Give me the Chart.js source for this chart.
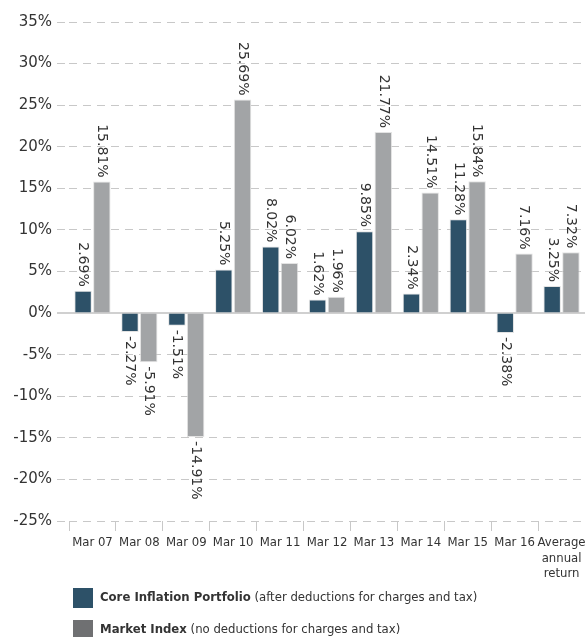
<!DOCTYPE html>
<html>
<head>
  <title>Core Inflation Portfolio vs Market Index</title>
  <script src="https://cdn.jsdelivr.net/npm/chart.js"></script>
  <style>
    body { margin: 0; background: #fff; }
    #wrap { width: 585px; height: 637px; }
  </style>
</head>
<body>
  <div id="wrap"><canvas id="returnsChart" width="585" height="637"></canvas></div>

  <script>
    // categories (multi-line label for the last one)
    const categories = ['Mar 07', 'Mar 08', 'Mar 09', 'Mar 10', 'Mar 11', 'Mar 12',
      'Mar 13', 'Mar 14', 'Mar 15', 'Mar 16', ['Average', 'annual', 'return']];

    // yearly returns in %
    const portfolioValues = [2.69, -2.27, -1.51, 5.25, 8.02, 1.62, 9.85, 2.34, 11.28, -2.38, 3.25];
    const indexValues = [15.81, -5.91, -14.91, 25.69, 6.02, 1.96, 21.77, 14.51, 15.84, 7.16, 7.32];

    const yMin = -25, yMax = 35, yStep = 5;

    const legendItems = [
      { bold: 'Core Inflation Portfolio', rest: ' (after deductions for charges and tax)', color: '#2d5168' },
      { bold: 'Market Index', rest: ' (no deductions for charges and tax)', color: '#6f7072' }
    ];

    const textColor = '#333';
    const gridColor = '#c8c8c8';
    const condensed = '"DejaVu Sans Condensed", "DejaVu Sans", sans-serif';
    const regular = '"DejaVu Sans", sans-serif';

    // rotated value labels above / below each bar
    const valueLabels = {
      id: 'valueLabels',
      afterDatasetsDraw(chart) {
        const ctx = chart.ctx;
        ctx.save();
        ctx.font = '14px ' + regular;
        ctx.fillStyle = textColor;
        ctx.textBaseline = 'middle';
        chart.data.datasets.forEach((ds, i) => {
          chart.getDatasetMeta(i).data.forEach((bar, j) => {
            const v = ds.data[j];
            const text = v.toFixed(2) + '%';
            ctx.save();
            ctx.translate(bar.x, v >= 0 ? bar.y - 4 : bar.y + 4);
            ctx.rotate(Math.PI / 2);
            ctx.textAlign = v >= 0 ? 'right' : 'left';
            ctx.fillText(text, 0, 0);
            ctx.restore();
          });
        });
        ctx.restore();
      }
    };

    // solid zero line
    const zeroLine = {
      id: 'zeroLine',
      beforeDatasetsDraw(chart) {
        const y = Math.round(chart.scales.y.getPixelForValue(0));
        const ctx = chart.ctx;
        ctx.save();
        ctx.strokeStyle = '#d0d0d0';
        ctx.lineWidth = 2;
        ctx.beginPath();
        ctx.moveTo(chart.chartArea.left - 12, y);
        ctx.lineTo(chart.chartArea.right, y);
        ctx.stroke();
        ctx.restore();
      }
    };

    // legend with bold series name + regular note
    const customLegend = {
      id: 'customLegend',
      afterDraw(chart) {
        const ctx = chart.ctx;
        ctx.save();
        ctx.textBaseline = 'middle';
        legendItems.forEach((item, i) => {
          const top = 588 + i * 32;
          ctx.fillStyle = item.color;
          ctx.fillRect(73, top, 20, 20);
          ctx.fillStyle = textColor;
          ctx.font = 'bold 13px ' + condensed;
          ctx.fillText(item.bold, 100, top + 10);
          const w = ctx.measureText(item.bold).width;
          ctx.font = '13px ' + condensed;
          ctx.fillText(item.rest, 100 + w, top + 10);
        });
        ctx.restore();
      }
    };

    const ctx = document.getElementById('returnsChart').getContext('2d');
    new Chart(ctx, {
      type: 'bar',
      data: {
        labels: categories,
        datasets: [{
          label: 'Core Inflation Portfolio',
          data: portfolioValues,
          backgroundColor: '#2d5168',
          borderColor: 'rgba(220,220,220,0.8)',
          borderWidth: 1,
          categoryPercentage: 0.8,
          barPercentage: 0.93
        }, {
          label: 'Market Index',
          data: indexValues,
          backgroundColor: '#a2a4a6',
          borderColor: 'rgba(220,220,220,0.8)',
          borderWidth: 1,
          categoryPercentage: 0.8,
          barPercentage: 0.93
        }]
      },
      options: {
        responsive: false,
        animation: false,
        layout: { padding: { top: 22, right: 0, bottom: 56, left: 0 } },
        plugins: {
          legend: { display: false },
          tooltip: { enabled: false }
        },
        scales: {
          x: {
            grid: {
              display: true,
              drawOnChartArea: false,
              drawTicks: true,
              tickLength: 10,
              tickColor: gridColor,
              color: gridColor
            },
            border: { display: false },
            ticks: {
              color: textColor,
              font: { family: condensed, size: 13, lineHeight: 1.2 },
              padding: 4,
              maxRotation: 0,
              autoSkip: false
            },
            afterFit(s) {
              s.height = 60;
              s.paddingLeft = 0;
              s.paddingRight = 0;
            }
          },
          y: {
            min: yMin,
            max: yMax,
            grid: {
              color: c => (c.tick && c.tick.value === 0) ? 'rgba(0,0,0,0)' : gridColor,
              tickColor: c => (c.tick && c.tick.value === 0) ? 'rgba(0,0,0,0)' : gridColor,
              tickLength: 12,
              tickBorderDash: [8, 6]
            },
            border: {
              display: false,
              dash: [8, 6]
            },
            ticks: {
              stepSize: yStep,
              color: textColor,
              padding: 5,
              font: { family: regular, size: 15 },
              callback: v => v + '%'
            },
            afterFit(s) {
              s.width = 69;
              s.paddingTop = 0;
              s.paddingBottom = 0;
            }
          }
        }
      },
      plugins: [zeroLine, valueLabels, customLegend]
    });
  </script>
</body>
</html>
